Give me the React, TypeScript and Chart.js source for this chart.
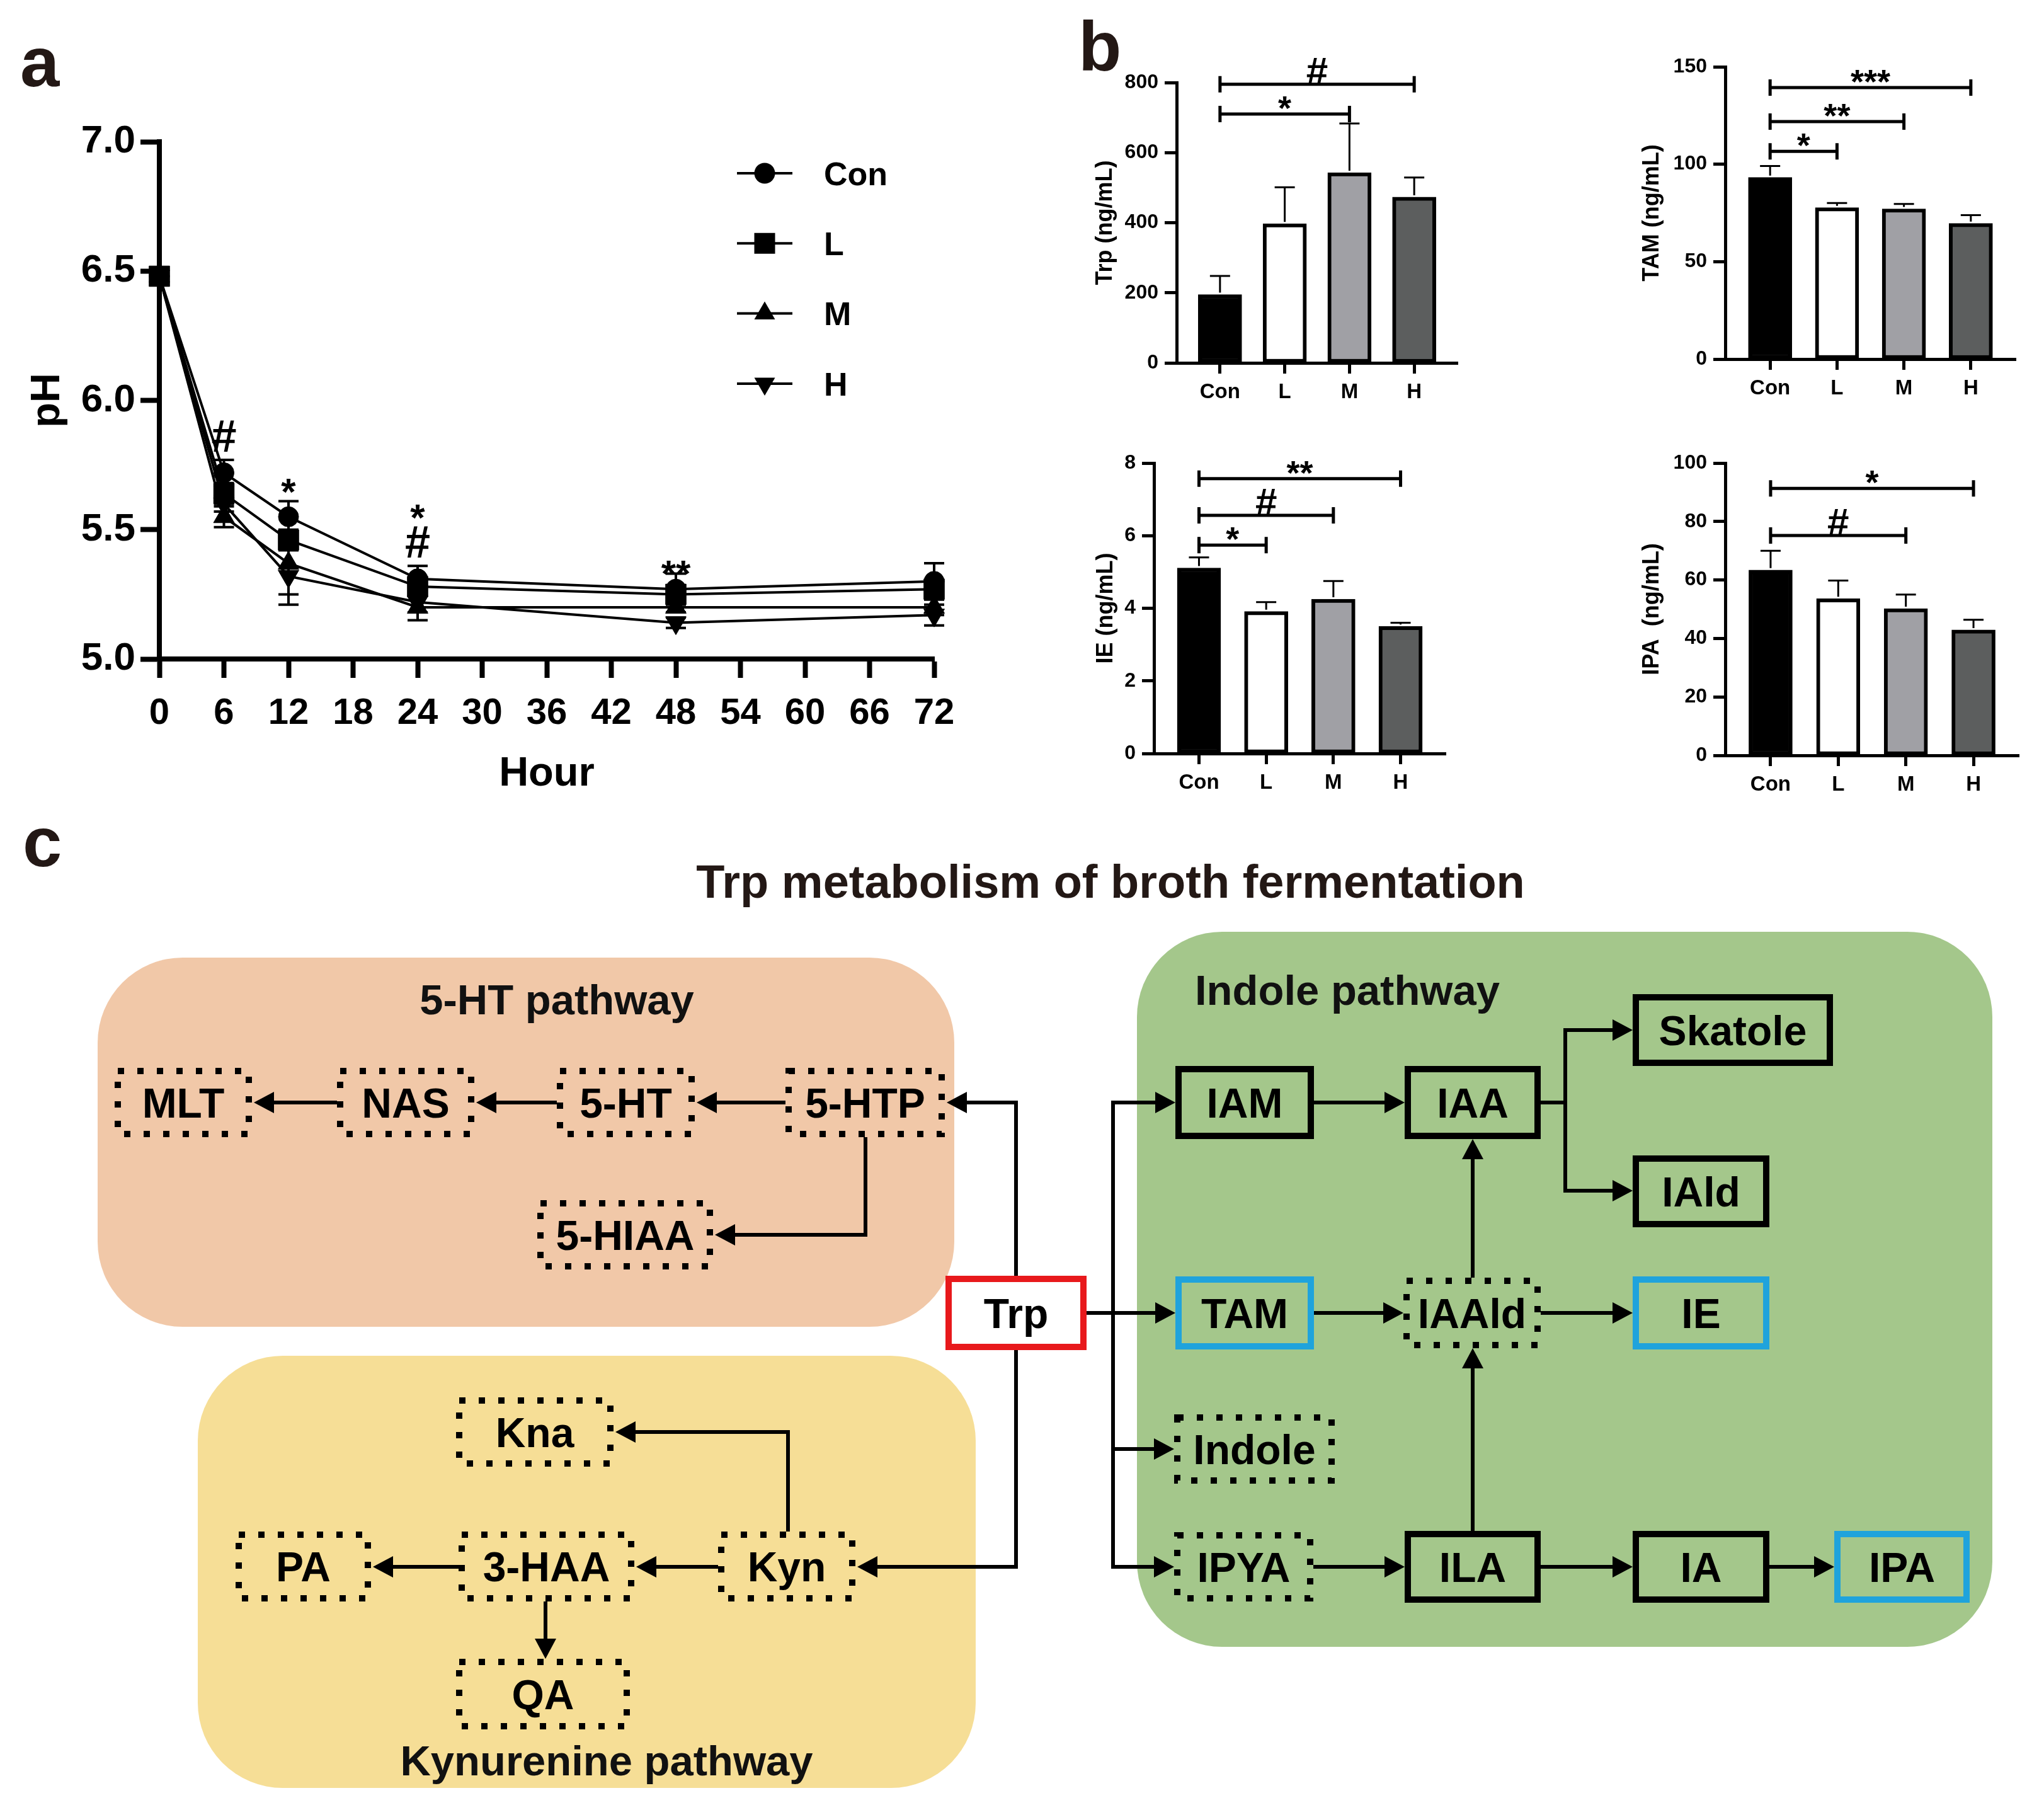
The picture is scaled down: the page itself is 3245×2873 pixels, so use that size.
import React, { useEffect, useRef } from 'react';
import { Chart, registerables } from 'chart.js';

Chart.register(...registerables);

const FONT = '"Liberation Sans", Arial, Helvetica, sans-serif';
Chart.defaults.font.family = FONT;
Chart.defaults.color = '#000';

// ---------------- Panel a data ----------------
const hours = [0, 6, 12, 24, 48, 72];
const seriesNames = ['Con', 'L', 'M', 'H'];
const phCon = [6.48, 5.72, 5.55, 5.31, 5.27, 5.3];
const phL = [6.48, 5.64, 5.46, 5.28, 5.25, 5.27];
const phM = [6.48, 5.55, 5.37, 5.2, 5.2, 5.2];
const phH = [6.48, 5.6, 5.32, 5.22, 5.14, 5.17];
const sdCon = [0.01, 0.05, 0.06, 0.05, 0.06, 0.07];
const sdL = [0.01, 0.04, 0.04, 0.03, 0.02, 0.03];
const sdM = [0.01, 0.04, 0.12, 0.05, 0.02, 0.03];
const sdH = [0.01, 0.03, 0.11, 0.04, 0.02, 0.04];
const phSigHours = [6, 12, 24, 24, 48];
const phSigLevels = [5.865, 5.68, 5.58, 5.455, 5.365];
const phSigLabels = ['#', '*', '*', '#', '**'];

// ---------------- Panel b data ----------------
const groups = ['Con', 'L', 'M', 'H'];
const barFills = ['#000000', '#ffffff', '#a0a0a5', '#5c5e5e'];

const trpMean = [195, 397, 543, 473];
const trpSd = [53, 104, 140, 56];
const trpSigTo = [3, 2];
const trpSigLevel = [795, 710];
const trpSigLabel = ['#', '*'];

const tamMean = [93.2, 77.7, 77.1, 69.6];
const tamSd = [5.9, 2.4, 2.5, 4.3];
const tamSigTo = [3, 2, 1];
const tamSigLevel = [139.3, 121.9, 106.6];
const tamSigLabel = ['***', '**', '*'];

const ieMean = [5.11, 3.91, 4.25, 3.5];
const ieSd = [0.29, 0.26, 0.5, 0.1];
const ieSigTo = [3, 2, 1];
const ieSigLevel = [7.57, 6.56, 5.74];
const ieSigLabel = ['**', '#', '*'];

const ipaMean = [63.4, 53.6, 50.2, 42.9];
const ipaSd = [6.6, 6.2, 4.8, 3.5];
const ipaSigTo = [3, 2];
const ipaSigLevel = [91.3, 75.2];
const ipaSigLabel = ['*', '#'];

// ---------------- Panel c (diagram) ----------------
const RED = '#E8191C';
const BLUE = '#1FA3DC';
type NodeKind = 'dot' | 'solid' | 'blue' | 'red';
const nodes: [string, number, number, number, number, NodeKind][] = [
  ['MLT', 182, 1695, 400, 1805, 'dot'],
  ['NAS', 535, 1695, 753, 1805, 'dot'],
  ['5-HT', 884, 1695, 1103, 1805, 'dot'],
  ['5-HTP', 1247, 1695, 1500, 1805, 'dot'],
  ['5-HIAA', 853, 1905, 1132, 2015, 'dot'],
  ['Kna', 724, 2218, 974, 2328, 'dot'],
  ['PA', 374, 2431, 589, 2542, 'dot'],
  ['3-HAA', 728, 2431, 1007, 2542, 'dot'],
  ['Kyn', 1140, 2431, 1358, 2542, 'dot'],
  ['QA', 724, 2633, 1000, 2745, 'dot'],
  ['Trp', 1501, 2025, 1725, 2143, 'red'],
  ['IAM', 1866, 1692, 2086, 1808, 'solid'],
  ['IAA', 2230, 1692, 2446, 1808, 'solid'],
  ['Skatole', 2592, 1578, 2910, 1692, 'solid'],
  ['IAld', 2592, 1834, 2809, 1948, 'solid'],
  ['TAM', 1866, 2026, 2086, 2142, 'blue'],
  ['IAAld', 2228, 2028, 2446, 2140, 'dot'],
  ['IE', 2592, 2026, 2809, 2142, 'blue'],
  ['Indole', 1864, 2245, 2119, 2355, 'dot'],
  ['IPYA', 1864, 2432, 2085, 2542, 'dot'],
  ['ILA', 2230, 2430, 2446, 2544, 'solid'],
  ['IA', 2592, 2430, 2809, 2544, 'solid'],
  ['IPA', 2912, 2430, 3127, 2544, 'blue'],
];
const arrows: number[][] = [
  [1247, 1750, 1106, 1750],
  [884, 1750, 756, 1750],
  [535, 1750, 403, 1750],
  [1374, 1805, 1374, 1960, 1135, 1960],
  [1613, 2025, 1613, 1750, 1503, 1750],
  [1613, 2143, 1613, 2487, 1361, 2487],
  [1140, 2487, 1010, 2487],
  [728, 2487, 592, 2487],
  [866, 2542, 866, 2633],
  [1251, 2431, 1251, 2273, 977, 2273],
  [1767, 1750, 1866, 1750],
  [1767, 2084, 1866, 2084],
  [1767, 2300, 1864, 2300],
  [1767, 2487, 1864, 2487],
  [2086, 1750, 2230, 1750],
  [2485, 1635, 2592, 1635],
  [2485, 1890, 2592, 1890],
  [2086, 2084, 2228, 2084],
  [2446, 2084, 2592, 2084],
  [2338, 2028, 2338, 1808],
  [2338, 2430, 2338, 2140],
  [2085, 2487, 2230, 2487],
  [2446, 2487, 2592, 2487],
  [2809, 2487, 2912, 2487],
];
const plainLines: number[][] = [
  [1725, 2084, 1767, 2084],
  [1767, 1747, 1767, 2490],
  [2446, 1750, 2485, 1750],
  [2485, 1632, 2485, 1893],
];

// ---------------- Chart configs ----------------
function phConfig() {
  const series = [phCon, phL, phM, phH];
  const sds = [sdCon, sdL, sdM, sdH];
  const styles = ['circle', 'rect', 'triangle', 'triangle'];
  const radii = [16, 23, 19, 19];
  const rotations = [0, 0, 0, 180];
  const order = [1, 0, 2, 3];
  const extras = {
    id: 'phExtras',
    beforeDatasetsDraw(chart: any) {
      const { ctx, scales } = chart;
      const x = scales.x, y = scales.y;
      ctx.save();
      ctx.strokeStyle = '#000';
      ctx.lineWidth = 4;
      series.forEach((s, k) => {
        s.forEach((v, i) => {
          const px = x.getPixelForValue(hours[i]);
          const t = y.getPixelForValue(v + sds[k][i]);
          const b = y.getPixelForValue(v - sds[k][i]);
          ctx.beginPath();
          ctx.moveTo(px, t); ctx.lineTo(px, b);
          ctx.moveTo(px - 16, t); ctx.lineTo(px + 16, t);
          ctx.moveTo(px - 16, b); ctx.lineTo(px + 16, b);
          ctx.stroke();
        });
      });
      ctx.restore();
    },
    afterDatasetsDraw(chart: any) {
      const { ctx, scales } = chart;
      const x = scales.x, y = scales.y;
      ctx.save();
      ctx.fillStyle = '#000';
      ctx.textAlign = 'center';
      ctx.textBaseline = 'alphabetic';
      phSigLabels.forEach((lab, k) => {
        const px = x.getPixelForValue(phSigHours[k]);
        const py = y.getPixelForValue(phSigLevels[k]);
        const isHash = lab.includes('#');
        const fs = isHash ? 72 : 60;
        ctx.font = `bold ${fs}px ${FONT}`;
        const f = isHash ? 0.36 : 0.575;
        ctx.fillText(lab, px, py + f * fs);
      });
      // legend
      const a = chart.chartArea;
      seriesNames.forEach((name, k) => {
        const ly = a.top + 50 + k * 111.3;
        const x0 = a.left + 917, x1 = a.left + 1005, mx = a.left + 961;
        ctx.strokeStyle = '#000';
        ctx.lineWidth = 4;
        ctx.beginPath(); ctx.moveTo(x0, ly); ctx.lineTo(x1, ly); ctx.stroke();
        ctx.beginPath();
        if (styles[k] === 'circle') {
          ctx.arc(mx, ly, 16.5, 0, Math.PI * 2);
        } else if (styles[k] === 'rect') {
          ctx.rect(mx - 16.5, ly - 16.5, 33, 33);
        } else if (rotations[k] === 0) {
          ctx.moveTo(mx, ly - 19); ctx.lineTo(mx + 16.5, ly + 9.5); ctx.lineTo(mx - 16.5, ly + 9.5);
        } else {
          ctx.moveTo(mx, ly + 19); ctx.lineTo(mx + 16.5, ly - 9.5); ctx.lineTo(mx - 16.5, ly - 9.5);
        }
        ctx.closePath();
        ctx.fill();
        ctx.font = `bold 52px ${FONT}`;
        ctx.textAlign = 'left';
        ctx.fillText(name, a.left + 1055, ly + 0.36 * 52);
      });
      ctx.restore();
    },
  };
  return {
    type: 'line',
    data: {
      datasets: series.map((s, k) => ({
        label: seriesNames[k],
        data: s.map((v, i) => ({ x: hours[i], y: v })),
        borderColor: '#000',
        backgroundColor: '#000',
        borderWidth: 4,
        pointStyle: styles[k],
        pointRadius: radii[k],
        pointRotation: rotations[k],
        pointBackgroundColor: '#000',
        pointBorderColor: '#000',
        pointBorderWidth: 1,
        tension: 0,
        clip: false,
        order: order[k],
      })),
    },
    plugins: [extras],
    options: {
      animation: false,
      responsive: false,
      devicePixelRatio: 1,
      events: [],
      layout: { padding: { left: 0, top: 75, right: 117, bottom: 0 } },
      plugins: { legend: { display: false }, tooltip: { enabled: false } },
      scales: {
        x: {
          type: 'linear', min: 0, max: 72,
          afterFit: (s: any) => { s.height = 254; },
          ticks: { stepSize: 6, autoSkip: false, maxRotation: 0, padding: 22, color: '#000', font: { size: 58, weight: 'bold' } },
          grid: { drawOnChartArea: false, drawTicks: true, tickLength: 30, tickWidth: 8, tickColor: '#000' },
          border: { display: true, width: 8, color: '#000' },
          title: { display: true, text: 'Hour', color: '#000', font: { size: 65, weight: 'bold', lineHeight: 1 }, padding: { top: 0, bottom: 38 } },
        },
        y: {
          min: 5, max: 7,
          afterFit: (s: any) => { s.width = 253; },
          ticks: { stepSize: 0.5, padding: 8, color: '#000', font: { size: 62, weight: 'bold' }, callback: (v: any) => Number(v).toFixed(1) },
          grid: { drawOnChartArea: false, drawTicks: true, tickLength: 30, tickWidth: 8, tickColor: '#000' },
          border: { display: true, width: 8, color: '#000' },
          title: { display: true, text: 'pH', color: '#000', font: { size: 65, weight: 'bold', lineHeight: 1 }, padding: { top: 44, bottom: 0 } },
        },
      },
    },
  };
}

function barConfig(p: any) {
  const extras = {
    id: 'barExtras',
    afterDatasetsDraw(chart: any) {
      const { ctx, scales } = chart;
      const x = scales.x, y = scales.y;
      ctx.save();
      ctx.strokeStyle = '#000';
      ctx.fillStyle = '#000';
      ctx.lineWidth = 3;
      p.mean.forEach((m: number, i: number) => {
        const px = x.getPixelForValue(i);
        const top = y.getPixelForValue(m + p.sd[i]);
        const base = y.getPixelForValue(m) - 3;
        ctx.beginPath();
        ctx.moveTo(px, base); ctx.lineTo(px, top);
        ctx.moveTo(px - 16, top); ctx.lineTo(px + 16, top);
        ctx.stroke();
      });
      ctx.lineWidth = 5;
      ctx.textAlign = 'center';
      ctx.textBaseline = 'alphabetic';
      p.sigTo.forEach((to: number, k: number) => {
        const x0 = x.getPixelForValue(0);
        const x1 = x.getPixelForValue(to);
        const yy = y.getPixelForValue(p.sigLevel[k]);
        ctx.beginPath();
        ctx.moveTo(x0, yy); ctx.lineTo(x1, yy);
        ctx.moveTo(x0, yy - 13); ctx.lineTo(x0, yy + 13);
        ctx.moveTo(x1, yy - 13); ctx.lineTo(x1, yy + 13);
        ctx.stroke();
        const lab = p.sigLabel[k];
        const isHash = lab.includes('#');
        const fs = isHash ? 62 : 54;
        ctx.font = `bold ${fs}px ${FONT}`;
        const f = isHash ? 0.36 : 0.575;
        ctx.fillText(lab, (x0 + x1) / 2, yy - 22 + f * fs);
      });
      ctx.restore();
    },
  };
  return {
    type: 'bar',
    data: {
      datasets: [{
        data: p.mean.map((v: number, i: number) => ({ x: i, y: v })),
        backgroundColor: barFills,
        borderColor: '#000',
        borderWidth: 6,
        borderSkipped: false,
        barThickness: 69,
      }],
    },
    plugins: [extras],
    options: {
      animation: false,
      responsive: false,
      devicePixelRatio: 1,
      events: [],
      layout: { padding: { left: 0, top: p.padTop, right: p.padRight, bottom: 0 } },
      plugins: { legend: { display: false }, tooltip: { enabled: false } },
      scales: {
        x: {
          type: 'linear', min: -0.67, max: 3.67, offset: false, bounds: 'data',
          afterBuildTicks: (s: any) => { s.ticks = groups.map((_, i) => ({ value: i })); },
          afterFit: (s: any) => { s.height = p.xH; },
          ticks: { autoSkip: false, maxRotation: 0, padding: 10, color: '#000', font: { size: 33, weight: 'bold' }, callback: (v: any) => groups[Math.round(Number(v))] ?? '' },
          grid: { offset: false, drawOnChartArea: false, drawTicks: true, tickLength: 17, tickWidth: 5, tickColor: '#000' },
          border: { display: true, width: 5, color: '#000' },
        },
        y: {
          min: 0, max: p.yMax,
          afterFit: (s: any) => { s.width = p.yW; },
          ticks: { stepSize: p.yStep, padding: 10, color: '#000', font: { size: 32, weight: 'bold' } },
          grid: { drawOnChartArea: false, drawTicks: true, tickLength: 19, tickWidth: 5, tickColor: '#000' },
          border: { display: true, width: 5, color: '#000' },
          title: { display: true, text: p.title, color: '#000', font: { size: 36, weight: 'bold', lineHeight: 1 }, padding: { top: p.titlePad, bottom: 0 } },
        },
      },
    },
  };
}

function ChartBox({ left, top, width, height, make }: { left: number; top: number; width: number; height: number; make: () => any }) {
  const ref = useRef<HTMLCanvasElement | null>(null);
  useEffect(() => {
    const chart = new Chart(ref.current as HTMLCanvasElement, make());
    return () => chart.destroy();
  }, []);
  return (
    <canvas ref={ref} width={width} height={height}
      style={{ position: 'absolute', left, top, width, height }} />
  );
}

function Diagram() {
  const AL = 32, AW = 17;
  return (
    <svg width={3245} height={2873} style={{ position: 'absolute', left: 0, top: 0 }}
      fontFamily={FONT} fontWeight="bold">
      <text x={32} y={137} fontSize={112} fill="#231815">a</text>
      <text x={1712} y={112} fontSize={112} fill="#231815">b</text>
      <text x={36} y={1375} fontSize={112} fill="#231815">c</text>
      <text x={1763} y={1425} fontSize={74} textAnchor="middle" fill="#231815">Trp metabolism of broth fermentation</text>

      <rect x={155} y={1520} width={1360} height={586} rx={135} ry={135} fill="#F1C8A8" />
      <rect x={314} y={2152} width={1235} height={686} rx={135} ry={135} fill="#F6DE96" />
      <rect x={1805} y={1479} width={1358} height={1135} rx={135} ry={135} fill="#A4C78B" />

      <text x={884} y={1610} fontSize={67} textAnchor="middle" fill="#111">5-HT pathway</text>
      <text x={963} y={2818} fontSize={67} textAnchor="middle" fill="#111">Kynurenine pathway</text>
      <text x={1897} y={1595} fontSize={67} fill="#111">Indole pathway</text>

      {plainLines.map((l, i) => (
        <line key={'l' + i} x1={l[0]} y1={l[1]} x2={l[2]} y2={l[3]} stroke="#000" strokeWidth={6} />
      ))}
      {arrows.map((pts, i) => {
        const n = pts.length;
        const ex = pts[n - 2], ey = pts[n - 1];
        const px = pts[n - 4], py = pts[n - 3];
        const len = Math.hypot(ex - px, ey - py);
        const ux = (ex - px) / len, uy = (ey - py) / len;
        const bx = ex - ux * AL, by = ey - uy * AL;
        const linePts = [...pts.slice(0, n - 2), bx + ux * 2, by + uy * 2];
        const pStr = [] as string[];
        for (let j = 0; j < linePts.length; j += 2) pStr.push(`${linePts[j]},${linePts[j + 1]}`);
        const poly = `${ex},${ey} ${bx - uy * AW},${by + ux * AW} ${bx + uy * AW},${by - ux * AW}`;
        return (
          <g key={'a' + i}>
            <polyline points={pStr.join(' ')} fill="none" stroke="#000" strokeWidth={6} strokeLinejoin="miter" />
            <polygon points={poly} fill="#000" />
          </g>
        );
      })}
      {nodes.map(([label, x1, y1, x2, y2, kind], i) => {
        const sw = 10;
        const stroke = kind === 'red' ? RED : kind === 'blue' ? BLUE : '#000';
        const fill = kind === 'red' ? '#fff' : 'none';
        return (
          <g key={'n' + i}>
            <rect x={x1 + sw / 2} y={y1 + sw / 2} width={x2 - x1 - sw} height={y2 - y1 - sw}
              fill={fill} stroke={stroke} strokeWidth={sw}
              strokeDasharray={kind === 'dot' ? '10 21' : undefined} />
            <text x={(x1 + x2) / 2} y={(y1 + y2) / 2 + 0.36 * 66} fontSize={66} textAnchor="middle" fill="#000">{label}</text>
          </g>
        );
      })}
    </svg>
  );
}

export default function App() {
  return (
    <div style={{ position: 'absolute', left: 0, top: 0, width: 3245, height: 2873, background: '#fff', overflow: 'hidden' }}>
      <Diagram />
      <ChartBox left={0} top={150} width={1600} height={1150} make={phConfig} />
      <ChartBox left={1700} top={0} width={700} height={700} make={() => barConfig({
        mean: trpMean, sd: trpSd, sigTo: trpSigTo, sigLevel: trpSigLevel, sigLabel: trpSigLabel,
        yMax: 800, yStep: 200, title: 'Trp (ng/mL)', padTop: 131, padRight: 86, yW: 168, xH: 124, titlePad: 37,
      })} />
      <ChartBox left={2560} top={0} width={685} height={700} make={() => barConfig({
        mean: tamMean, sd: tamSd, sigTo: tamSigTo, sigLevel: tamSigLevel, sigLabel: tamSigLabel,
        yMax: 150, yStep: 50, title: 'TAM (ng/mL)', padTop: 106, padRight: 45, yW: 179, xH: 130, titlePad: 45,
      })} />
      <ChartBox left={1700} top={700} width={700} height={600} make={() => barConfig({
        mean: ieMean, sd: ieSd, sigTo: ieSigTo, sigLevel: ieSigLevel, sigLabel: ieSigLabel,
        yMax: 8, yStep: 2, title: 'IE (ng/mL)', padTop: 35, padRight: 105, yW: 132, xH: 104, titlePad: 38,
      })} />
      <ChartBox left={2560} top={700} width={685} height={600} make={() => barConfig({
        mean: ipaMean, sd: ipaSd, sigTo: ipaSigTo, sigLevel: ipaSigLevel, sigLabel: ipaSigLabel,
        yMax: 100, yStep: 20, title: 'IPA  (ng/mL)', padTop: 35, padRight: 40, yW: 179, xH: 101, titlePad: 45,
      })} />
    </div>
  );
}
